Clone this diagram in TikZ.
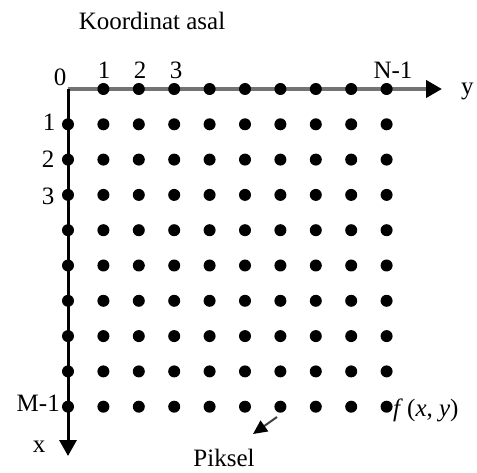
\documentclass[tikz,border=0pt]{standalone}
\usepackage{fontspec}
\setmainfont{Liberation Serif}
\usetikzlibrary{arrows.meta}
\begin{document}
\begin{tikzpicture}[x=1pt,y=-1pt,
  lbl/.style={font=\fontsize{25}{27}\selectfont, inner sep=0pt},
  pix/.style={circle, fill=black, minimum size=12pt, inner sep=0pt},
  haxis/.style={draw=black!55, line width=4pt, -{Triangle[length=16pt,width=17pt,color=black]}},
  vaxis/.style={draw=black, line width=3pt, -{Triangle[length=16pt,width=17pt]}},
  ptr/.style={draw=black!75, line width=2pt, -{Triangle[length=14pt,width=13pt,color=black]}}]
\useasboundingbox (0,0) rectangle (477,473);
\coordinate (o) at (68,89);
\coordinate (yend) at (442,89);
\coordinate (xend) at (68,456);
\draw[haxis] (o) -- (yend);
\draw[vaxis] (o) -- (xend);
% axis-row pixels
\foreach \i in {1,...,9} {
  \node[pix] (d-\i-0) at ({68+35.4*\i},89) {};
}
% grid pixels
\foreach \j in {1,...,9} {
  \foreach \i in {0,...,9} {
    \node[pix] (d-\i-\j) at ({68+35.4*\i},{89+35.3*\j}) {};
  }
}
\node[lbl] (title) at (152,21) {Koordinat asal};
\node[lbl] (l0) at (60,77) {0};
\node[lbl] (c1) at (104,70) {1};
\node[lbl] (c2) at (140,70) {2};
\node[lbl] (c3) at (176,70) {3};
\node[lbl] (cN) at (393,70) {N-1};
\node[lbl, anchor=west] (ylab) at (461,91) {y};
\node[lbl] (r1) at (49,122) {1};
\node[lbl] (r2) at (48,159) {2};
\node[lbl] (r3) at (48,196) {3};
\node[lbl, anchor=east] (rM) at (60,403) {M-1};
\node[lbl] (xlab) at (39,447) {x};
\node[lbl, anchor=west] (f) at (393,410) {\textit{f}\,(\textit{x}, \textit{y})};
\node[lbl] (piksel) at (224,458) {Piksel};
\coordinate (ps) at (277,417);
\coordinate (pe) at (253,434);
\draw[ptr] (ps) -- (pe);
\end{tikzpicture}
\end{document}
